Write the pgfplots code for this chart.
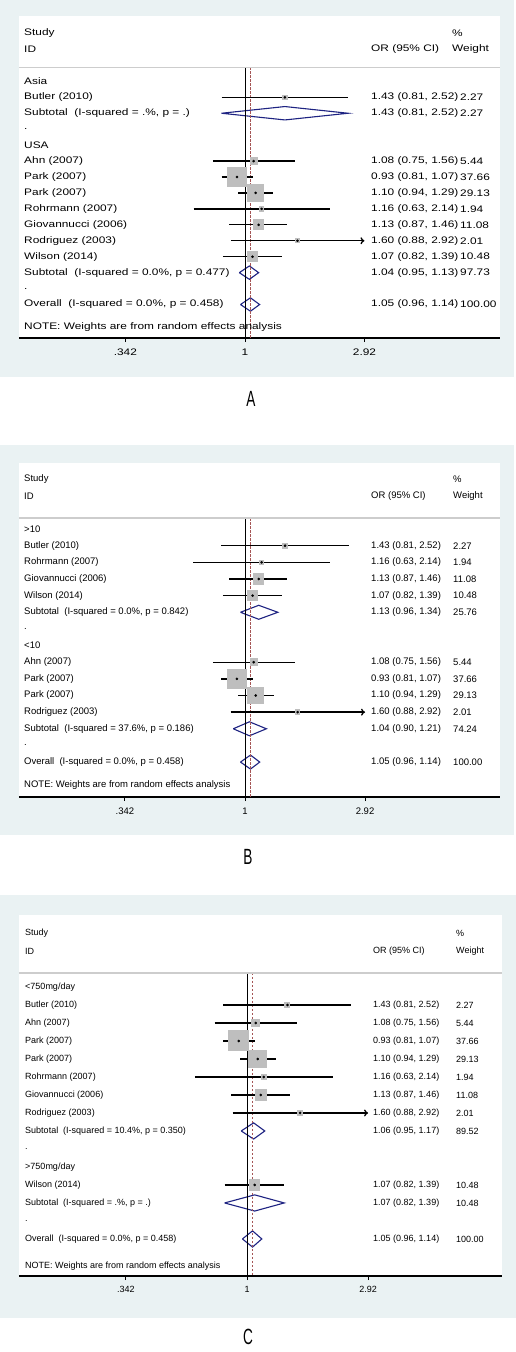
\documentclass[border=0pt]{standalone}
\usepackage{pgfplots}
\usepackage{pgfplotstable}
\pgfplotsset{compat=1.18}
\usepackage{fontspec}
\setmainfont{Liberation Sans}
\newfontfamily\fWide{Liberation Sans}[FakeStretch=1.25]
\usetikzlibrary{arrows.meta}
\definecolor{bgcol}{RGB}{234,242,243}
\definecolor{boxgray}{RGB}{190,190,190}
\definecolor{dnavy}{RGB}{30,35,130}
\definecolor{dmaroon}{RGB}{165,85,85}
\definecolor{sepgray}{RGB}{205,205,205}

\newcommand\tx[3]{\node[anchor=west,inner sep=0pt,font=\curfont] at (axis cs:#1,#2) {#3};}

% ---------- data ----------
\pgfplotstableread{
row or w
2 1.43 2.27
6 1.08 5.44
7 0.93 37.66
8 1.10 29.13
9 1.16 1.94
10 1.13 11.08
11 1.60 2.01
12 1.07 10.48
}\studA
\pgfplotstableread{
row or w
2 1.43 2.27
3 1.16 1.94
4 1.13 11.08
5 1.07 10.48
9 1.08 5.44
10 0.93 37.66
11 1.10 29.13
12 1.60 2.01
}\studB
\pgfplotstableread{
row or w
2 1.43 2.27
3 1.08 5.44
4 0.93 37.66
5 1.10 29.13
6 1.16 1.94
7 1.13 11.08
8 1.60 2.01
12 1.07 10.48
}\studC

\begin{document}
\begin{tikzpicture}
\useasboundingbox (0,0) rectangle (516pt,-1352pt);
\fill[white] (0,0) rectangle (516pt,-1352pt);
\fill[bgcol] (0,0) rectangle (514pt,-377pt);
\fill[bgcol] (0,-445pt) rectangle (514pt,-835pt);
\fill[bgcol] (0,-895pt) rectangle (516pt,-1318pt);

% ================= PANEL A =================
\def\curfont{\fWide\fontsize{9.5}{11}\selectfont}
\begin{axis}[scale only axis, xmode=log, y dir=reverse,
  axis x line*=bottom, axis y line=none,
  axis line style={black,line width=1.2pt},
  xtick={0.342,1,2.92}, xticklabels={.342,1,2.92}, minor xtick={},
  xtick align=outside, major tick length=4pt,
  xtick style={black,line width=0.8pt},
  xticklabel style={font=\curfont, yshift=-3pt},
  axis background/.style={fill=white},
  clip=false, anchor=north west,
  at={(19pt,-16pt)}, width=481pt, height=322pt,
  xmin=0.1317, xmax=9.845, ymin=-3.1, ymax=17.1]
\addplot[scatter, only marks, mark=square*, mark options={draw=boxgray, fill=boxgray, line width=0pt},
  scatter/use mapped color={draw=boxgray,fill=boxgray},
  visualization depends on={1.525*sqrt(\thisrow{w}) \as \msz},
  scatter/@pre marker code/.append style={/tikz/mark size=\msz}] table[x=or,y=row] {\studA};
\addplot[draw=dnavy, fill=white, line width=1.1pt, mark=none] coordinates {(0.81,3) (1.43,2.58) (2.52,3) (1.43,3.42) (0.81,3)};
\addplot[draw=dnavy, fill=white, line width=1.1pt, mark=none] coordinates {(0.95,13) (1.04,12.58) (1.13,13) (1.04,13.42) (0.95,13)};
\addplot[draw=dnavy, fill=white, line width=1.1pt, mark=none] coordinates {(0.96,15) (1.05,14.58) (1.14,15) (1.05,15.42) (0.96,15)};
\addplot[black, line width=0.9pt, mark=none] coordinates {(1,0.13) (1,17.1)};
\addplot[dmaroon, line width=0.7pt, dash pattern=on 2.5pt off 1.5pt, mark=none] coordinates {(1.05,0.13) (1.05,17.1)};
\addplot[sepgray, line width=1.5pt, mark=none] coordinates {(0.1317,0.13) (9.845,0.13)};
\addplot[black, line width=1.3pt, mark=none, unbounded coords=jump] table {
x y
0.81 2
2.52 2
nan nan
0.75 6
1.56 6
nan nan
0.81 7
1.07 7
nan nan
0.94 8
1.29 8
nan nan
0.63 9
2.14 9
nan nan
0.87 10
1.46 10
nan nan
0.82 12
1.39 12
};
\addplot[black, line width=1.3pt, mark=none, -{To[length=4pt,width=7pt]}] coordinates {(0.88,11) (2.92,11)};
\addplot[only marks, mark=*, mark size=1.1pt, mark options={fill=black,draw=black}] table[x=or,y=row] {\studA};
\tx{0.1378}{-2}{Study}
\tx{6.401}{-2}{\%}
\tx{0.1378}{-1}{ID}
\tx{3.096}{-1}{OR (95\% CI)}
\tx{6.401}{-1}{Weight}
\tx{0.1378}{1}{Asia}
\tx{0.1378}{2}{Butler (2010)}
\tx{0.1378}{3}{Subtotal\ \ (I-squared = .\%, p = .)}
\tx{0.1378}{4}{.}
\tx{0.1378}{5}{USA}
\tx{0.1378}{6}{Ahn (2007)}
\tx{0.1378}{7}{Park (2007)}
\tx{0.1378}{8}{Park (2007)}
\tx{0.1378}{9}{Rohrmann (2007)}
\tx{0.1378}{10}{Giovannucci (2006)}
\tx{0.1378}{11}{Rodriguez (2003)}
\tx{0.1378}{12}{Wilson (2014)}
\tx{0.1378}{13}{Subtotal\ \ (I-squared = 0.0\%, p = 0.477)}
\tx{0.1378}{14}{.}
\tx{0.1378}{15}{Overall\ \ (I-squared = 0.0\%, p = 0.458)}
\tx{0.1378}{16.4}{NOTE: Weights are from random effects analysis}
\tx{3.096}{2}{1.43 (0.81, 2.52)}
\tx{3.096}{3}{1.43 (0.81, 2.52)}
\tx{3.096}{6}{1.08 (0.75, 1.56)}
\tx{3.096}{7}{0.93 (0.81, 1.07)}
\tx{3.096}{8}{1.10 (0.94, 1.29)}
\tx{3.096}{9}{1.16 (0.63, 2.14)}
\tx{3.096}{10}{1.13 (0.87, 1.46)}
\tx{3.096}{11}{1.60 (0.88, 2.92)}
\tx{3.096}{12}{1.07 (0.82, 1.39)}
\tx{3.096}{13}{1.04 (0.95, 1.13)}
\tx{3.096}{15}{1.05 (0.96, 1.14)}
\tx{6.877}{2}{2.27}
\tx{6.877}{3}{2.27}
\tx{6.877}{6}{5.44}
\tx{6.877}{7}{37.66}
\tx{6.877}{8}{29.13}
\tx{6.877}{9}{1.94}
\tx{6.877}{10}{11.08}
\tx{6.877}{11}{2.01}
\tx{6.877}{12}{10.48}
\tx{6.877}{13}{97.73}
\tx{6.877}{15}{100.00}
\end{axis}

% ================= PANEL B =================
\def\curfont{\fontsize{9.5}{11}\selectfont}
\begin{axis}[scale only axis, xmode=log, y dir=reverse,
  axis x line*=bottom, axis y line=none,
  axis line style={black,line width=1.2pt},
  xtick={0.342,1,2.92}, xticklabels={.342,1,2.92}, minor xtick={},
  xtick align=outside, major tick length=4pt,
  xtick style={black,line width=0.8pt},
  xticklabel style={font=\curfont, yshift=-3pt},
  axis background/.style={fill=white},
  clip=false, anchor=north west,
  at={(19pt,-463pt)}, width=481pt, height=334pt,
  xmin=0.1329, xmax=9.74, ymin=-2.97, ymax=17.1]
\addplot[scatter, only marks, mark=square*, mark options={draw=boxgray, fill=boxgray, line width=0pt},
  scatter/use mapped color={draw=boxgray,fill=boxgray},
  visualization depends on={1.525*sqrt(\thisrow{w}) \as \msz},
  scatter/@pre marker code/.append style={/tikz/mark size=\msz}] table[x=or,y=row] {\studB};
\addplot[draw=dnavy, fill=white, line width=1.1pt, mark=none] coordinates {(0.96,6) (1.13,5.58) (1.34,6) (1.13,6.42) (0.96,6)};
\addplot[draw=dnavy, fill=white, line width=1.1pt, mark=none] coordinates {(0.90,13) (1.04,12.58) (1.21,13) (1.04,13.42) (0.90,13)};
\addplot[draw=dnavy, fill=white, line width=1.1pt, mark=none] coordinates {(0.96,15) (1.05,14.58) (1.14,15) (1.05,15.42) (0.96,15)};
\addplot[black, line width=0.9pt, mark=none] coordinates {(1,0.34) (1,17.1)};
\addplot[dmaroon, line width=0.7pt, dash pattern=on 2.5pt off 1.5pt, mark=none] coordinates {(1.05,0.34) (1.05,17.1)};
\addplot[sepgray, line width=1.5pt, mark=none] coordinates {(0.1329,0.34) (9.74,0.34)};
\addplot[black, line width=1.3pt, mark=none, unbounded coords=jump] table {
x y
0.81 2
2.52 2
nan nan
0.63 3
2.14 3
nan nan
0.87 4
1.46 4
nan nan
0.82 5
1.39 5
nan nan
0.75 9
1.56 9
nan nan
0.81 10
1.07 10
nan nan
0.94 11
1.29 11
};
\addplot[black, line width=1.3pt, mark=none, -{To[length=4pt,width=7pt]}] coordinates {(0.88,12) (2.92,12)};
\addplot[only marks, mark=*, mark size=1.1pt, mark options={fill=black,draw=black}] table[x=or,y=row] {\studB};
\tx{0.1390}{-2}{Study}
\tx{6.405}{-2}{\%}
\tx{0.1390}{-1}{ID}
\tx{3.080}{-1}{OR (95\% CI)}
\tx{6.405}{-1}{Weight}
\tx{0.1390}{1}{>10}
\tx{0.1390}{2}{Butler (2010)}
\tx{0.1390}{3}{Rohrmann (2007)}
\tx{0.1390}{4}{Giovannucci (2006)}
\tx{0.1390}{5}{Wilson (2014)}
\tx{0.1390}{6}{Subtotal\ \ (I-squared = 0.0\%, p = 0.842)}
\tx{0.1390}{7}{.}
\tx{0.1390}{8}{<10}
\tx{0.1390}{9}{Ahn (2007)}
\tx{0.1390}{10}{Park (2007)}
\tx{0.1390}{11}{Park (2007)}
\tx{0.1390}{12}{Rodriguez (2003)}
\tx{0.1390}{13}{Subtotal\ \ (I-squared = 37.6\%, p = 0.186)}
\tx{0.1390}{14}{.}
\tx{0.1390}{15}{Overall\ \ (I-squared = 0.0\%, p = 0.458)}
\tx{0.1390}{16.4}{NOTE: Weights are from random effects analysis}
\tx{3.080}{2}{1.43 (0.81, 2.52)}
\tx{3.080}{3}{1.16 (0.63, 2.14)}
\tx{3.080}{4}{1.13 (0.87, 1.46)}
\tx{3.080}{5}{1.07 (0.82, 1.39)}
\tx{3.080}{6}{1.13 (0.96, 1.34)}
\tx{3.080}{9}{1.08 (0.75, 1.56)}
\tx{3.080}{10}{0.93 (0.81, 1.07)}
\tx{3.080}{11}{1.10 (0.94, 1.29)}
\tx{3.080}{12}{1.60 (0.88, 2.92)}
\tx{3.080}{13}{1.04 (0.90, 1.21)}
\tx{3.080}{15}{1.05 (0.96, 1.14)}
\tx{6.405}{2}{2.27}
\tx{6.405}{3}{1.94}
\tx{6.405}{4}{11.08}
\tx{6.405}{5}{10.48}
\tx{6.405}{6}{25.76}
\tx{6.405}{9}{5.44}
\tx{6.405}{10}{37.66}
\tx{6.405}{11}{29.13}
\tx{6.405}{12}{2.01}
\tx{6.405}{13}{74.24}
\tx{6.405}{15}{100.00}
\end{axis}

% ================= PANEL C =================
\def\curfont{\fontsize{9}{11}\selectfont}
\begin{axis}[scale only axis, xmode=log, y dir=reverse,
  axis x line*=bottom, axis y line=none,
  axis line style={black,line width=1.2pt},
  xtick={0.342,1,2.92}, xticklabels={.342,1,2.92}, minor xtick={},
  xtick align=outside, major tick length=4pt,
  xtick style={black,line width=0.8pt},
  xticklabel style={font=\curfont, yshift=-3pt},
  axis background/.style={fill=white},
  clip=false, anchor=north west,
  at={(19pt,-915pt)}, width=483pt, height=361pt,
  xmin=0.1329, xmax=9.551, ymin=-3.0, ymax=17.06]
\addplot[scatter, only marks, mark=square*, mark options={draw=boxgray, fill=boxgray, line width=0pt},
  scatter/use mapped color={draw=boxgray,fill=boxgray},
  visualization depends on={1.63*sqrt(\thisrow{w}) \as \msz},
  scatter/@pre marker code/.append style={/tikz/mark size=\msz}] table[x=or,y=row] {\studC};
\addplot[draw=dnavy, fill=white, line width=1.1pt, mark=none] coordinates {(0.95,9) (1.06,8.55) (1.17,9) (1.06,9.45) (0.95,9)};
\addplot[draw=dnavy, fill=white, line width=1.1pt, mark=none] coordinates {(0.82,13) (1.07,12.55) (1.39,13) (1.07,13.45) (0.82,13)};
\addplot[draw=dnavy, fill=white, line width=1.1pt, mark=none] coordinates {(0.96,15) (1.05,14.55) (1.14,15) (1.05,15.45) (0.96,15)};
\addplot[black, line width=0.9pt, mark=none] coordinates {(1,0.22) (1,17.06)};
\addplot[dmaroon, line width=0.7pt, dash pattern=on 2.5pt off 1.5pt, mark=none] coordinates {(1.05,0.22) (1.05,17.06)};
\addplot[sepgray, line width=1.5pt, mark=none] coordinates {(0.1329,0.22) (9.551,0.22)};
\addplot[black, line width=1.3pt, mark=none, unbounded coords=jump] table {
x y
0.81 2
2.52 2
nan nan
0.75 3
1.56 3
nan nan
0.81 4
1.07 4
nan nan
0.94 5
1.29 5
nan nan
0.63 6
2.14 6
nan nan
0.87 7
1.46 7
nan nan
0.82 12
1.39 12
};
\addplot[black, line width=1.3pt, mark=none, -{To[length=4pt,width=7pt]}] coordinates {(0.88,8) (2.92,8)};
\addplot[only marks, mark=*, mark size=1.1pt, mark options={fill=black,draw=black}] table[x=or,y=row] {\studC};
\tx{0.1402}{-2}{Study}
\tx{6.357}{-2}{\%}
\tx{0.1402}{-1}{ID}
\tx{3.050}{-1}{OR (95\% CI)}
\tx{6.357}{-1}{Weight}
\tx{0.1402}{1}{<750mg/day}
\tx{0.1402}{2}{Butler (2010)}
\tx{0.1402}{3}{Ahn (2007)}
\tx{0.1402}{4}{Park (2007)}
\tx{0.1402}{5}{Park (2007)}
\tx{0.1402}{6}{Rohrmann (2007)}
\tx{0.1402}{7}{Giovannucci (2006)}
\tx{0.1402}{8}{Rodriguez (2003)}
\tx{0.1402}{9}{Subtotal\ \ (I-squared = 10.4\%, p = 0.350)}
\tx{0.1402}{10}{.}
\tx{0.1402}{11}{>750mg/day}
\tx{0.1402}{12}{Wilson (2014)}
\tx{0.1402}{13}{Subtotal\ \ (I-squared = .\%, p = .)}
\tx{0.1402}{14}{.}
\tx{0.1402}{15}{Overall\ \ (I-squared = 0.0\%, p = 0.458)}
\tx{0.1402}{16.5}{NOTE: Weights are from random effects analysis}
\tx{3.050}{2}{1.43 (0.81, 2.52)}
\tx{3.050}{3}{1.08 (0.75, 1.56)}
\tx{3.050}{4}{0.93 (0.81, 1.07)}
\tx{3.050}{5}{1.10 (0.94, 1.29)}
\tx{3.050}{6}{1.16 (0.63, 2.14)}
\tx{3.050}{7}{1.13 (0.87, 1.46)}
\tx{3.050}{8}{1.60 (0.88, 2.92)}
\tx{3.050}{9}{1.06 (0.95, 1.17)}
\tx{3.050}{12}{1.07 (0.82, 1.39)}
\tx{3.050}{13}{1.07 (0.82, 1.39)}
\tx{3.050}{15}{1.05 (0.96, 1.14)}
\tx{6.357}{2}{2.27}
\tx{6.357}{3}{5.44}
\tx{6.357}{4}{37.66}
\tx{6.357}{5}{29.13}
\tx{6.357}{6}{1.94}
\tx{6.357}{7}{11.08}
\tx{6.357}{8}{2.01}
\tx{6.357}{9}{89.52}
\tx{6.357}{12}{10.48}
\tx{6.357}{13}{10.48}
\tx{6.357}{15}{100.00}
\end{axis}

\node at (251pt,-399pt) {\fontsize{22}{22}\selectfont\scalebox{0.62}[1]{A}};
\node at (248pt,-857pt) {\fontsize{22}{22}\selectfont\scalebox{0.62}[1]{B}};
\node at (248pt,-1337pt) {\fontsize{22}{22}\selectfont\scalebox{0.62}[1]{C}};
\end{tikzpicture}
\end{document}
